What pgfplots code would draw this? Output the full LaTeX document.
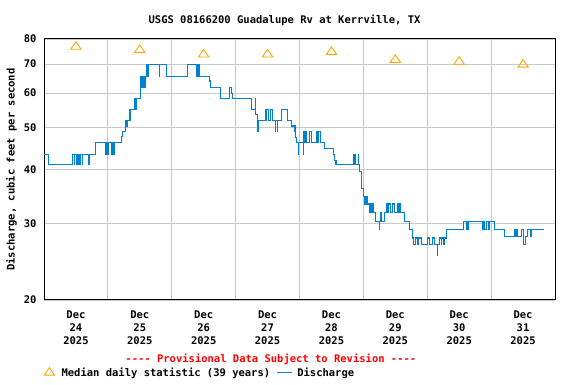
\documentclass[border=0pt]{standalone}
\usepackage{pgfplots}
\pgfplotsset{compat=1.18}
\usepackage{fontspec}
\setmainfont{DejaVu Sans Mono}
\definecolor{qblue}{RGB}{0,128,208}
\definecolor{qorange}{RGB}{255,165,0}
\definecolor{qgrid}{RGB}{200,200,200}
\newcommand{\cf}{\fontsize{10.5}{13}\selectfont\bfseries}
\newcommand{\dd}{-\kern0pt-\kern0pt-\kern0pt-}
\begin{document}
\begin{tikzpicture}
\path[use as bounding box] (0,0) rectangle (576pt,384pt);
\begin{axis}[
  at={(44pt,84pt)}, anchor=south west,
  width=511pt, height=261pt, scale only axis,
  clip mode=individual,
  xmin=0, xmax=192,
  ymode=log, ymin=20, ymax=80,
  xtick={12,36,60,84,108,132,156,180},
  xticklabels={{Dec\\24\\2025},{Dec\\25\\2025},{Dec\\26\\2025},{Dec\\27\\2025},{Dec\\28\\2025},{Dec\\29\\2025},{Dec\\30\\2025},{Dec\\31\\2025}},
  xticklabel style={align=center, font=\cf, yshift=-7pt},
  minor xtick={24,48,72,96,120,144,168},
  xminorgrids,
  ytick={20,30,40,50,60,70,80},
  yticklabels={20,30,40,50,60,70,80},
  yticklabel style={font=\cf, xshift=-4pt},
  ymajorgrids,
  grid style={qgrid, line width=0.8pt},
  minor grid style={qgrid, line width=0.8pt},
  major tick length=0pt, minor tick length=0pt,
  axis line style={black, line width=1pt},
  ylabel={Discharge, cubic feet per second},
  ylabel style={at={(axis description cs:-0.0636,0.5)}, anchor=center, font=\cf},
  title={USGS 08166200 Guadalupe Rv at Kerrville, TX},
  title style={at={(axis description cs:0.4707,1)}, anchor=center, yshift=13pt, font=\cf},
  legend columns=-1,
  legend style={draw=none, fill=none, font=\cf, at={(axis description cs:0,-0.2785)}, anchor=west, inner sep=0pt,
    /tikz/every even column/.append style={column sep=4pt}},
]
\addplot[only marks, mark=triangle, mark size=5pt, mark options={qorange, line width=0.9pt, xscale=1.2}] coordinates {
(12,76.8) (36,75.5) (60,73.7) (84,73.7) (108,74.7) (132,71.6) (156,70.9) (180,69.8)
};
\addlegendentry{\hspace{5pt}Median daily statistic (39 years)}
\addplot[const plot, qblue, line width=1.1pt, legend image code/.code={\draw[qblue, line width=1.1pt] (0pt,0pt) -- (15pt,0pt);}] coordinates {
(0,43.4) (1.6,41.0) (10.7,43.4) (11.3,41.0) (11.6,43.4) (12.4,41.0) (12.8,43.4) (13.3,41.0) (13.7,43.4) (14.3,41.0) (14.6,43.4) (16.6,41.0) (16.9,43.4)
(19.5,46.2) (23.3,43.4) (23.7,46.2) (23.8,43.4) (24.2,46.2) (25.5,43.4) (25.8,46.2) (26.3,43.4) (26.5,46.2)
(29.0,47.6) (29.6,49.0) (30.6,52.0) (30.8,50.4) (31.2,52.0) (32.3,55.1) (33.9,58.4) (34.4,55.1) (34.5,58.4) (34.7,55.1) (34.9,58.4)
(36.1,61.9) (36.3,65.5) (36.5,61.9) (36.8,65.5) (37.2,61.9) (37.6,65.5) (37.9,61.9) (38.0,65.5) (38.5,70.0) (38.7,65.5) (39.2,70.0)
(43.3,65.7) (43.4,70.0) (46.1,65.7) (53.8,70.0) (57.4,65.7) (57.6,70.0) (57.8,65.7) (58.1,70.0) (58.3,65.7)
(62.1,64.0) (62.6,61.9) (66.4,58.4) (69.6,61.9) (70.4,60.0) (70.9,58.4)
(78.0,55.1) (79.4,58.4) (79.5,53.5) (80.1,52.0) (80.3,49.0) (80.6,52.0) (83.1,55.1) (83.4,52.0) (83.6,55.1) (84.2,52.0) (85.0,55.1) (85.9,52.0)
(86.9,49.0) (87.0,52.0) (87.6,49.0) (87.7,52.0) (89.3,55.1) (91.6,52.0) (93.0,50.4) (94.3,49.0) (94.6,47.5) (94.9,46.2)
(95.5,43.4) (95.6,46.2) (97.4,43.4) (97.5,46.2) (97.7,49.0) (98.0,46.2) (98.3,49.0) (98.7,46.2) (99.8,49.0) (100.4,46.2)
(102.4,49.0) (102.8,46.2) (103.1,49.0) (103.9,46.2) (105.5,44.8) (108.7,43.4) (109.2,42.0) (109.7,41.0)
(116.2,43.4) (116.6,41.0) (116.8,43.4) (117.2,41.0) (118.0,43.4) (118.2,41.0) (118.7,39.5) (119.3,36.2) (119.9,34.6)
(120.6,33.3) (121.2,34.6) (121.4,33.3) (122.2,31.9) (122.7,33.3) (123.0,31.9) (123.3,33.3) (123.7,31.9)
(124.7,30.3) (125.9,29.1) (126.0,30.3) (126.5,31.9) (126.7,30.3) (127.8,31.9) (128.7,33.3) (129.2,31.9) (129.5,33.3) (130.3,31.9)
(131.1,33.3) (131.8,31.9) (132.8,33.3) (133.3,31.9) (133.6,33.3) (134.1,31.9) (135.3,30.3) (137.2,29.1)
(138.5,27.8) (138.7,26.8) (139.6,27.8) (140.2,26.8) (140.6,27.8) (141.8,26.8) (144.0,27.8) (145.0,26.8) (146.0,27.8) (146.6,26.8)
(147.7,25.3) (147.8,26.8) (148.7,27.8) (149.2,26.8) (149.5,27.8) (150.0,26.8) (150.3,27.8) (151.2,29.1)
(157.5,30.3) (158.9,29.1) (159.3,30.3) (164.9,29.1) (165.3,30.3) (165.6,29.1) (166.4,30.3) (167.1,29.1) (167.5,30.3)
(169.1,29.1) (172.9,28.0) (176.9,29.1) (177.2,28.0) (177.5,29.1) (177.8,28.0) (179.5,29.1) (180.0,28.0) (180.3,26.8) (180.8,28.0)
(181.5,29.1) (182.9,28.0) (183.1,29.1) (187.9,29.1)
};
\addlegendentry{\hspace{3pt}Discharge}
\node[font=\cf, text=red] at (axis description cs:0.444,0) [yshift=-59pt] {\dd{} Provisional Data Subject to Revision \dd};
\end{axis}
\end{tikzpicture}
\end{document}
